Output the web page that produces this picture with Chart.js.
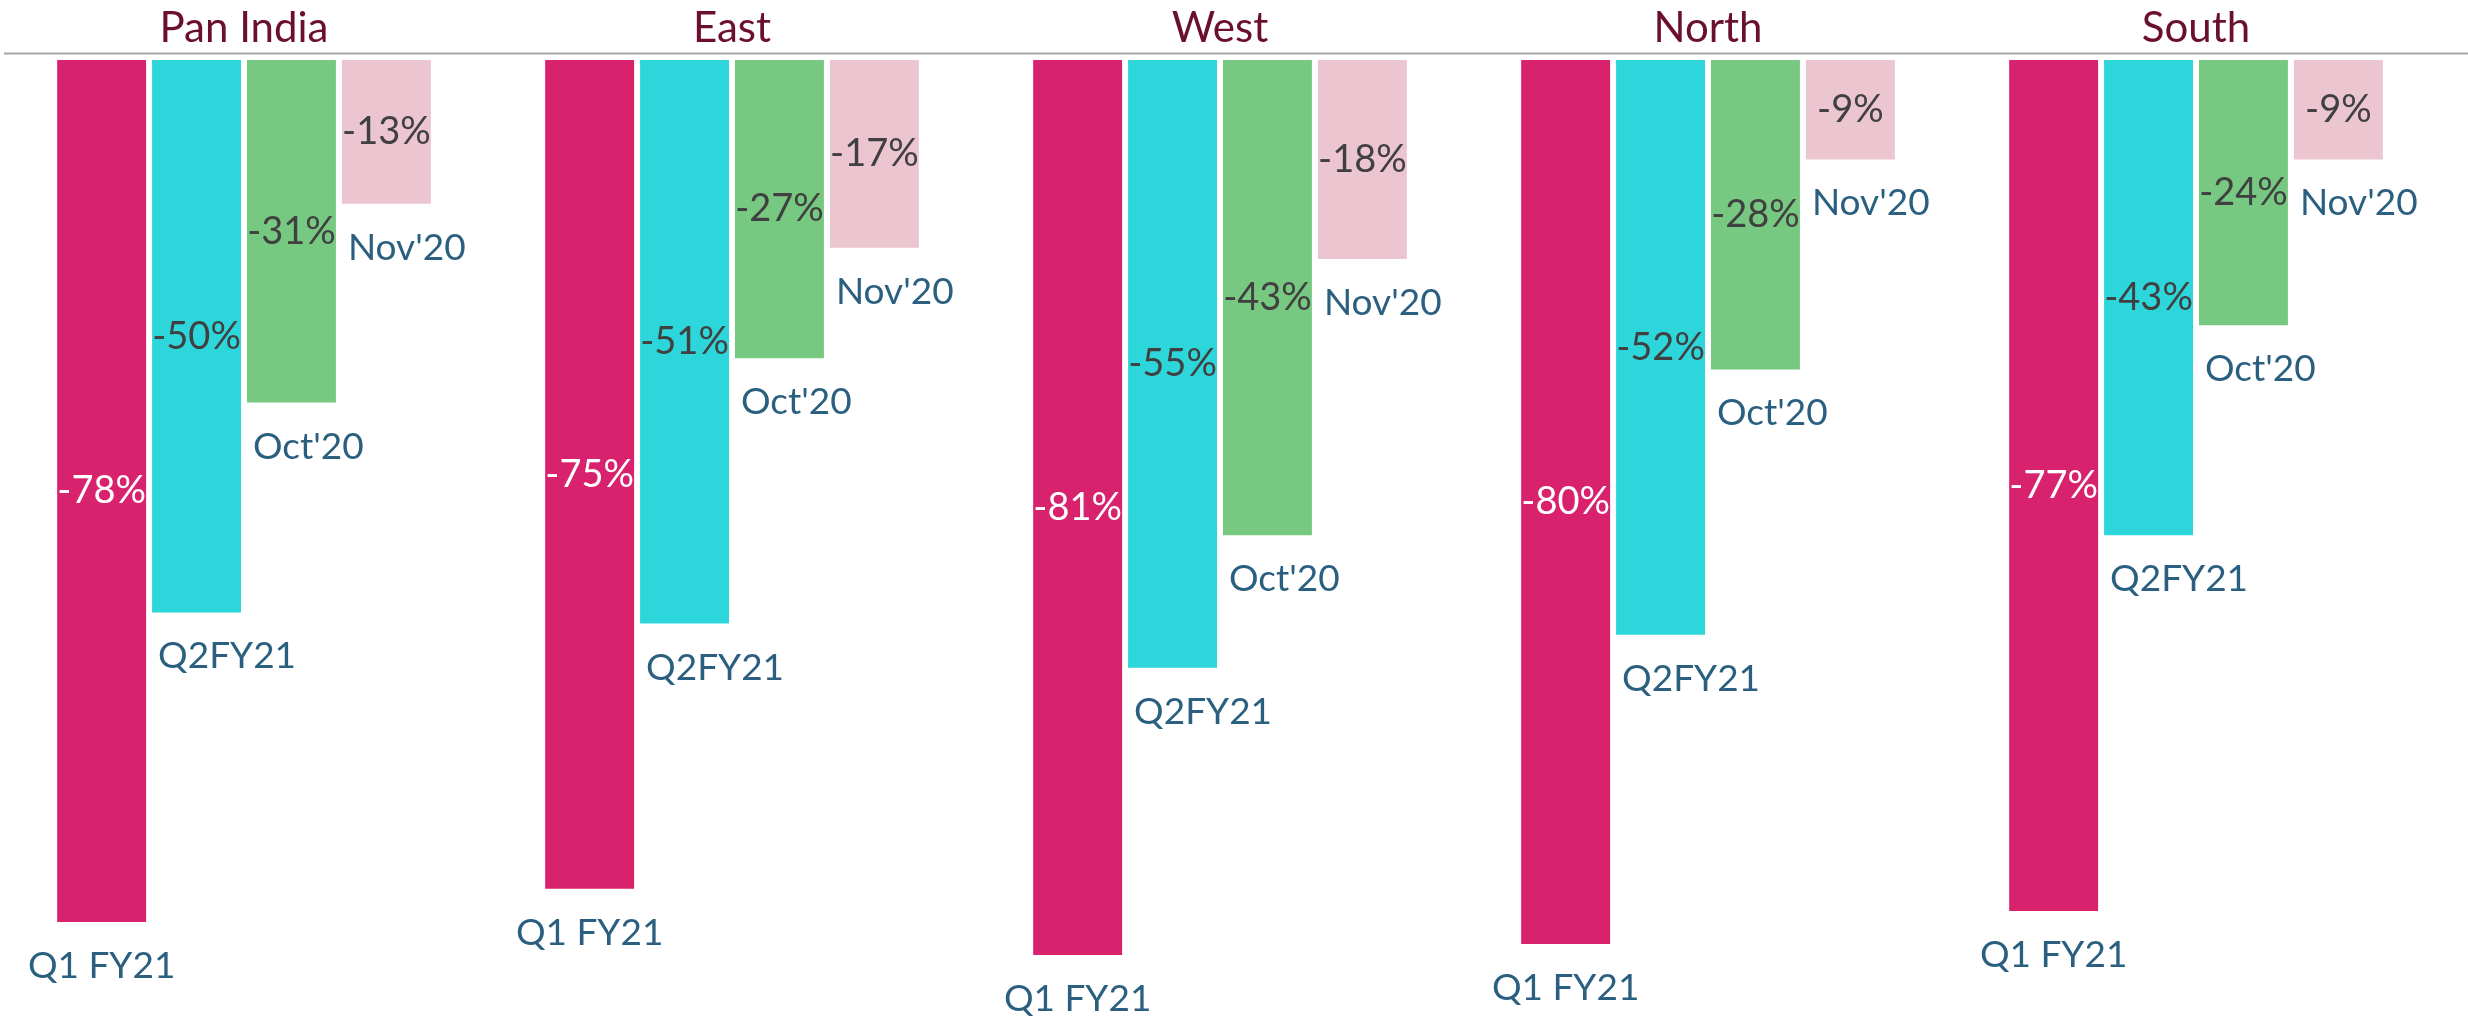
<!DOCTYPE html>
<html>
<head>
<meta charset="utf-8">
<script src="https://cdn.jsdelivr.net/npm/chart.js@4"></script>
<style>
  html, body { margin: 0; padding: 0; background: #fff; }
  #wrap { width: 2468px; height: 1017px; position: relative; }
</style>
</head>
<body>
<div id="wrap"><canvas id="chart"></canvas></div>
<script>
const REGIONS = ['Pan India', 'East', 'West', 'North', 'South'];
const PERIODS = ['Q1 FY21', 'Q2FY21', "Oct'20", "Nov'20"];
const Q1_FY21 = [-78, -75, -81, -80, -77];
const Q2_FY21 = [-50, -51, -55, -52, -43];
const OCT_20 = [-31, -27, -43, -28, -24];
const NOV_20 = [-13, -17, -18, -9, -9];

const COLORS = ['#d9226d', '#2dd6db', '#77c982', '#ebc5cf'];
const FONT = 'Lato, "Open Sans", sans-serif';
const TITLE_COLOR = '#6a0f30';
const NAME_COLOR = '#2b5f80';
const VALUE_COLOR = '#404040';

// --- Labels: region titles, separator line, values and period names ---

const labelsPlugin = {
  id: 'labels',
  afterDraw(chart) {
    const { ctx, chartArea, scales } = chart;

    // separator line just above the zero line
    ctx.save();
    ctx.strokeStyle = '#a6a6a6';
    ctx.lineWidth = 2;
    ctx.beginPath();
    ctx.moveTo(4, chartArea.top - 6.5);
    ctx.lineTo(chart.width, chartArea.top - 6.5);
    ctx.stroke();

    // region titles
    ctx.fillStyle = TITLE_COLOR;
    ctx.font = `42px ${FONT}`;
    ctx.textAlign = 'center';
    ctx.textBaseline = 'alphabetic';
    REGIONS.forEach((name, i) => {
      ctx.fillText(name, scales.x.getPixelForValue(i), 42);
    });

    // bar values and period names
    ctx.textBaseline = 'middle';
    chart.data.datasets.forEach((ds, di) => {
      const meta = chart.getDatasetMeta(di);
      meta.data.forEach((bar, i) => {
        const v = ds.data[i];
        ctx.font = `38px ${FONT}`;
        ctx.fillStyle = di === 0 ? '#ffffff' : VALUE_COLOR;
        ctx.textAlign = 'center';
        ctx.fillText(`${v}%`, bar.x, (bar.y + bar.base) / 2);

        ctx.font = `37px ${FONT}`;
        ctx.fillStyle = NAME_COLOR;
        if (di === 0) {
          ctx.textAlign = 'center';
          ctx.fillText(ds.label, bar.x, bar.y + 44);
        } else {
          ctx.textAlign = 'left';
          ctx.fillText(ds.label, bar.x - bar.width / 2 + 6, bar.y + 44);
        }
      });
    });
    ctx.restore();
  },
};

const seriesValues = [Q1_FY21, Q2_FY21, OCT_20, NOV_20];

new Chart(document.getElementById('chart'), {
  type: 'bar',
  data: {
    labels: REGIONS,
    datasets: PERIODS.map((p, i) => ({
      label: p,
      data: seriesValues[i],
      backgroundColor: COLORS[i],
      borderWidth: 0,
      barPercentage: 0.937,
      categoryPercentage: 0.778,
    })),
  },
  options: {
    responsive: true,
    maintainAspectRatio: false,
    animation: false,
    layout: { padding: { top: 60, right: 28, left: 0, bottom: 0 } },
    scales: {
      x: { display: false },
      y: { display: false, min: -86.6, max: 0 },
    },
    plugins: {
      legend: { display: false },
      tooltip: { enabled: false },
    },
  },
  plugins: [labelsPlugin],
});
</script>
</body>
</html>
